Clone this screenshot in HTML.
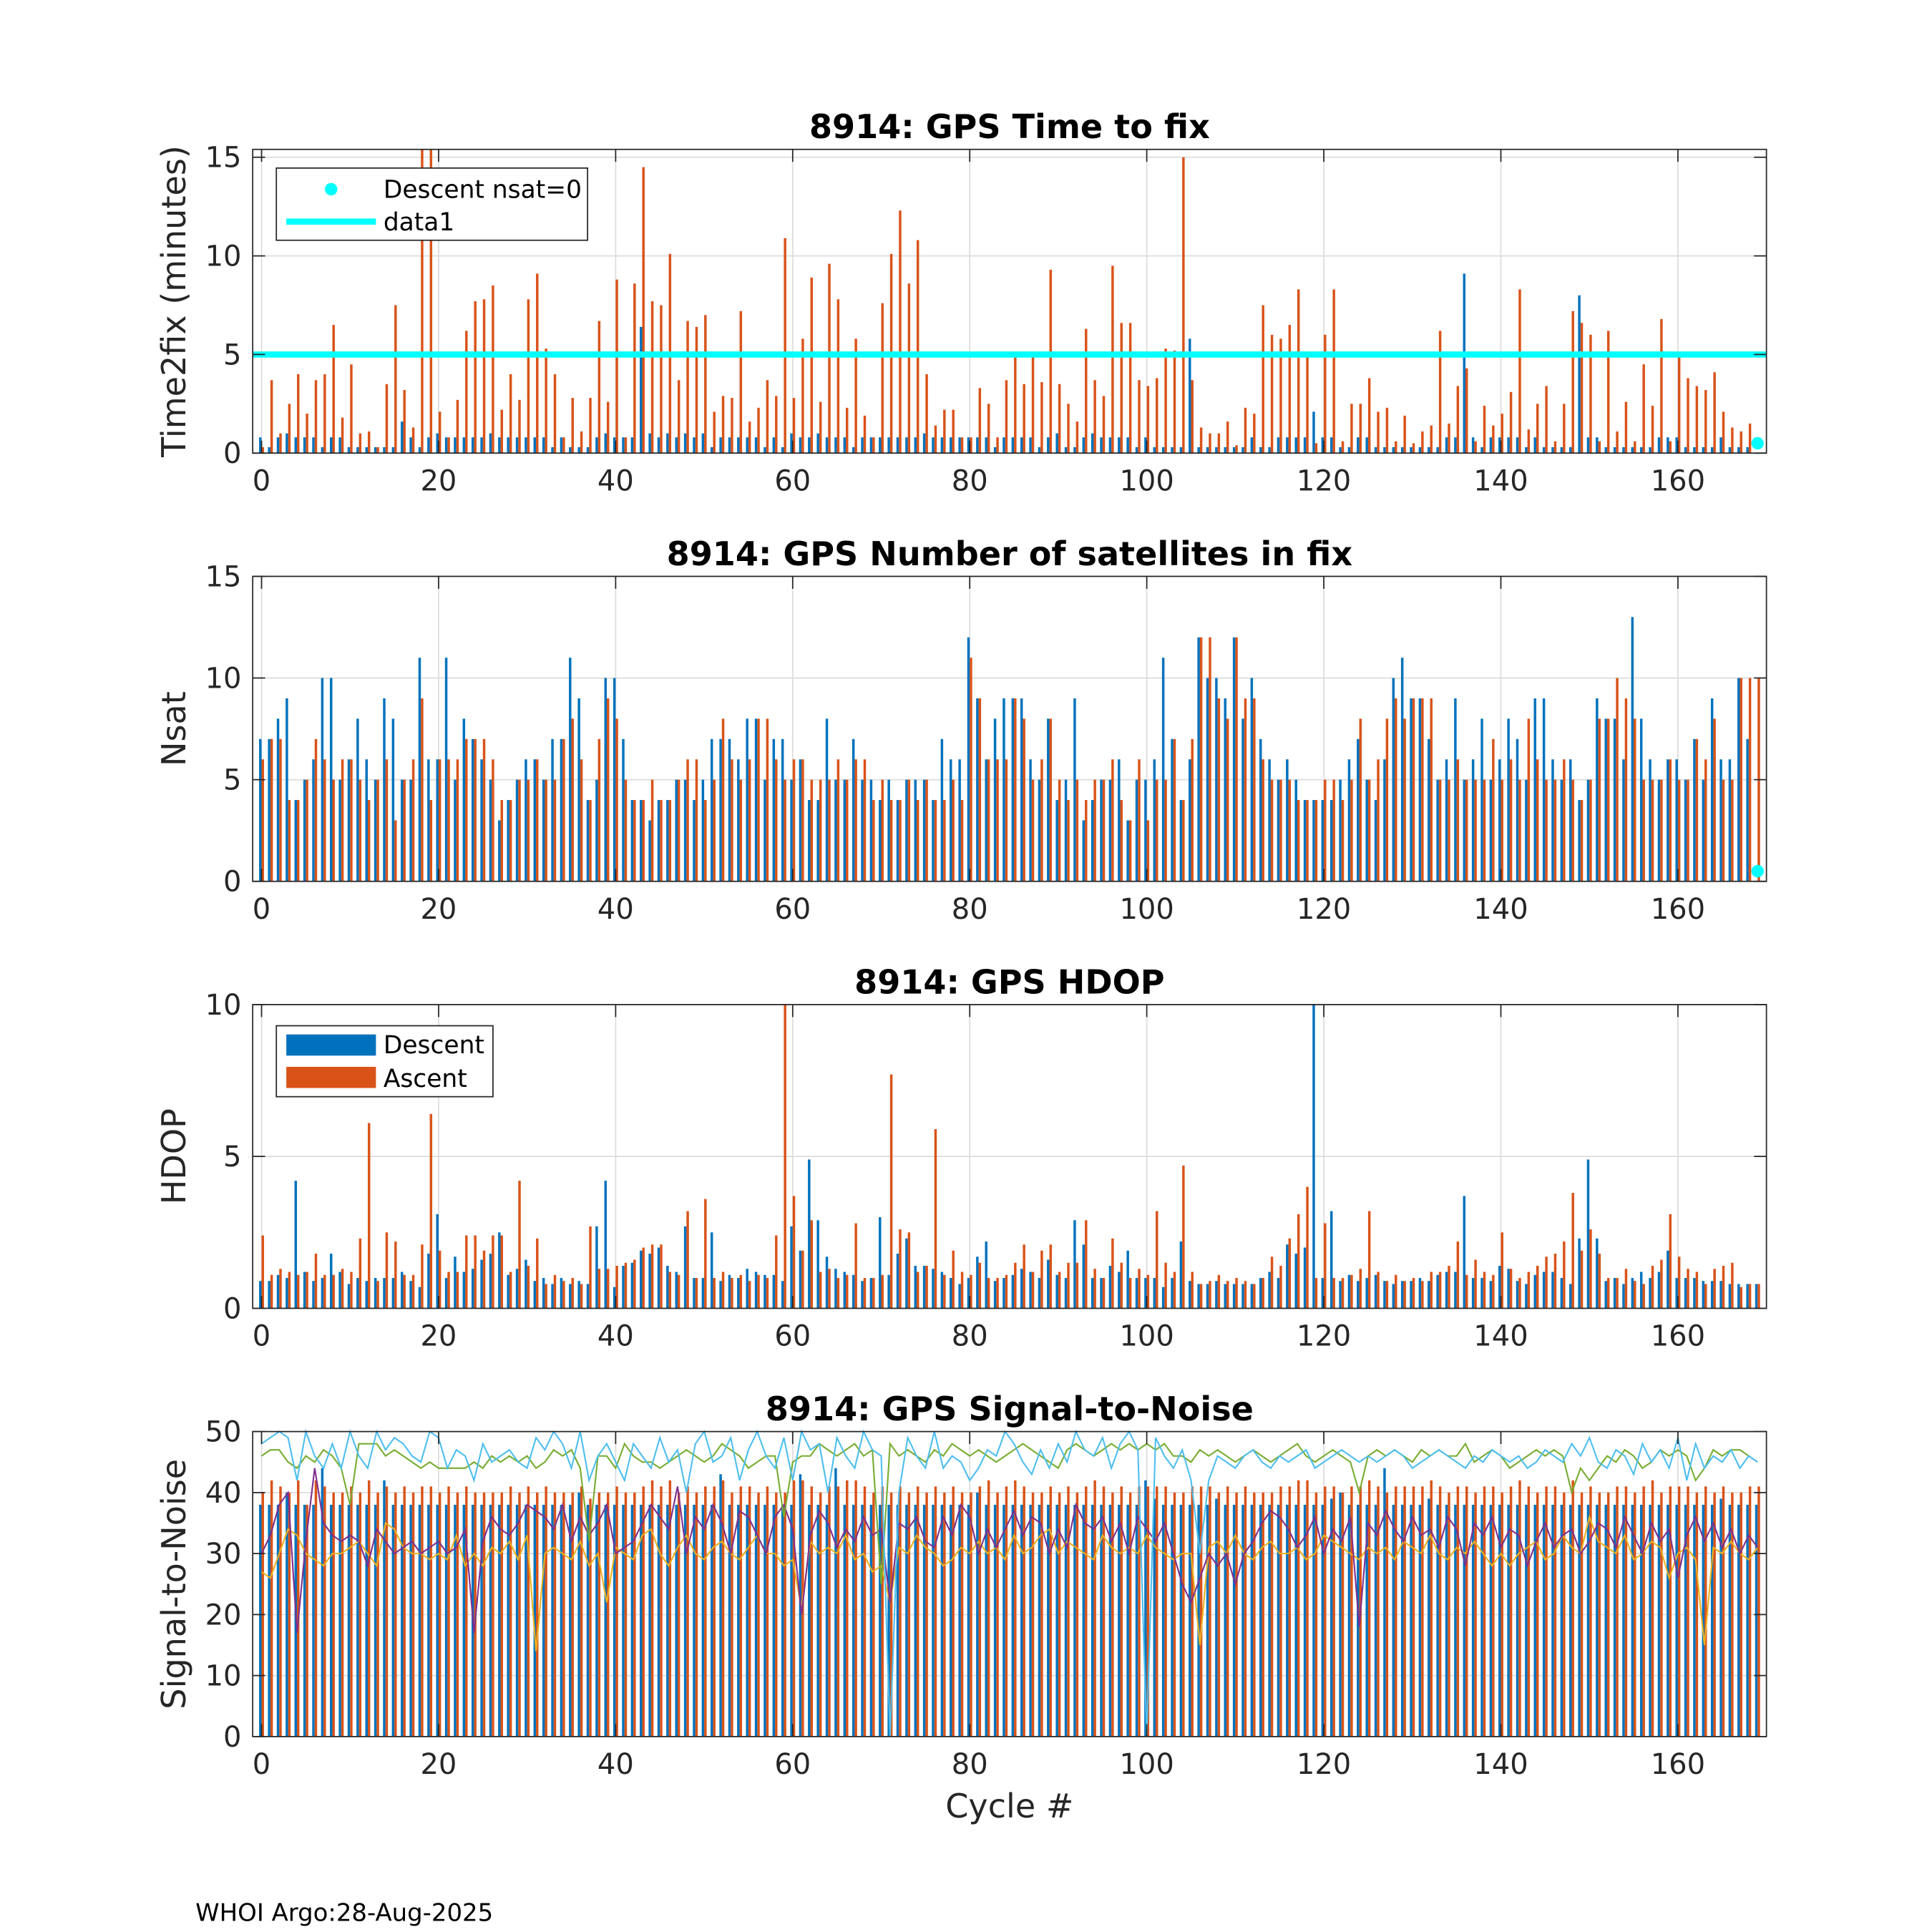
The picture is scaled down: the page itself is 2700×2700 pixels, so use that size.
<!DOCTYPE html>
<html><head><meta charset="utf-8"><style>
html,body{margin:0;padding:0;background:#fff;}
svg{display:block;font-family:"DejaVu Sans","Liberation Sans",sans-serif;}
</style></head><body>
<svg id="c" width="2700" height="2700" viewBox="0 0 1552 1552" xmlns="http://www.w3.org/2000/svg">
<rect x="0" y="0" width="1552" height="1552" fill="#fff"/>
<text x="157" y="1543" font-size="19.5" fill="#000">WHOI Argo:28-Aug-2025</text>
<text x="811" y="1460" font-size="26.5" text-anchor="middle" fill="#262626">Cycle #</text>
</svg>
<script>
const cycles = Array.from({length:170},(_, i)=>i);
const xTicks = [0,20,40,60,80,100,120,140,160];
const t2fDesc = [0.8,0.3,0.8,1,0.8,0.8,0.8,0.3,0.8,0.8,0.3,0.3,0.3,0.3,0.3,0.3,1.6,0.8,0.3,0.8,1,0.8,0.8,0.8,0.8,0.8,1,0.8,0.8,0.8,0.8,0.8,0.8,0.3,0.8,0.3,0.3,0.3,0.8,1,0.8,0.8,0.8,6.4,1,0.8,1,0.8,1,0.8,1,0.3,0.8,0.8,0.8,0.8,0.8,0.3,0.8,0.3,1,0.8,0.8,1,0.8,0.8,0.8,0.3,0.8,0.8,0.8,0.8,0.8,0.8,0.8,1,0.8,0.8,0.8,0.8,0.8,0.8,0.8,0.3,0.8,0.8,0.8,0.8,0.3,0.8,1,0.3,0.3,0.8,1,0.8,0.8,0.8,0.8,0.3,0.8,0.3,0.3,0.3,0.3,5.8,0.3,0.3,0.3,0.3,0.3,0.3,0.8,0.3,0.3,0.8,0.8,0.8,0.8,2.1,0.8,0.8,0.3,0.3,0.8,0.8,0.3,0.3,0.3,0.3,0.3,0.3,0.3,0.3,0.8,0.8,9.1,0.8,0.3,0.8,0.8,0.8,0.8,0.3,0.8,0.3,0.3,0.3,0.3,8,0.8,0.8,0.3,0.3,0.3,0.3,0.3,0.3,0.8,0.8,0.8,0.3,0.3,0.3,0.3,0.8,0.3,0.3,0.3,0];
const t2fAsc = [0.3,3.7,1,2.5,4,2,3.7,4,6.5,1.8,4.5,1,1.1,0.3,3.5,7.5,3.2,1.3,15.4,15.4,2.1,0.8,2.7,6.2,7.7,7.8,8.5,2.2,4,2.7,7.8,9.1,5.3,4,0.8,2.8,1.1,2.8,6.7,2.6,8.8,0.8,8.6,14.5,7.7,7.5,10.1,3.7,6.7,6.4,7,2.1,2.9,2.8,7.2,1.6,2.3,3.7,2.9,10.9,2.8,5.8,8.9,2.6,9.6,7.8,2.3,5.8,1.9,0.8,7.6,10.1,12.3,8.6,10.8,4,1.4,2.2,2.2,0.8,0.8,3.3,2.5,0.8,3.7,4.9,3.5,4.9,3.6,9.3,3.5,2.5,1.6,6.3,3.7,2.9,9.5,6.6,6.6,3.7,3.4,3.8,5.3,5.2,15,3.7,1.3,1,1,1.6,0.4,2.3,2,7.5,6,5.8,6.5,8.3,5,0.5,6,8.3,0.6,2.5,2.5,3.8,2.1,2.3,0.6,1.9,0.5,1.1,1.4,6.2,1.5,3.4,4.3,0.6,2.4,1.4,2,3.1,8.3,1.2,2.5,3.4,0.6,2.5,7.2,6.6,6,0.6,6.2,1.1,2.6,0.6,4.5,2.4,6.8,0.6,4.9,3.8,3.4,3.2,4.1,2.1,1.3,1.1,1.5,0];
const nsatDesc = [7,7,8,9,4,5,6,10,10,5,6,8,6,5,9,8,5,5,11,6,6,11,5,8,7,6,5,3,4,5,6,6,5,7,7,11,9,4,5,10,10,7,4,4,3,4,4,5,5,4,5,7,7,7,6,8,8,5,7,7,5,6,4,4,8,5,5,7,5,5,4,5,4,5,5,5,4,7,6,6,12,9,6,8,9,9,9,6,5,8,4,5,9,3,4,5,5,6,3,5,5,6,11,7,4,6,12,10,10,9,12,8,10,7,6,5,6,5,4,4,4,4,5,6,7,5,4,6,10,11,9,9,7,5,6,9,5,6,8,5,6,8,7,5,9,9,6,5,6,4,5,9,8,8,6,13,8,6,5,6,6,5,7,5,9,6,6,10,7,0];
const nsatAsc = [6,7,7,4,4,5,7,6,5,6,6,5,4,5,6,3,5,6,9,4,6,6,6,7,7,7,6,4,4,5,5,6,5,5,7,8,6,4,7,9,8,5,4,4,5,4,4,5,6,6,4,5,8,6,5,6,8,8,6,5,6,6,5,5,5,6,5,6,6,4,5,4,4,5,4,5,4,4,5,4,11,9,6,6,6,9,8,5,6,8,5,4,5,4,5,5,6,4,3,6,3,5,5,7,4,7,12,12,9,8,12,9,9,6,5,5,5,4,4,4,5,5,4,5,8,5,6,8,9,8,9,9,9,5,5,6,5,5,5,7,5,6,5,8,6,5,5,6,5,4,5,8,8,10,9,8,5,5,5,6,5,5,7,6,8,5,5,10,10,10];
const hdopDesc = [0.9,0.9,1.1,1,4.2,1.2,0.9,1,1.8,1.2,0.8,1,0.9,1,1,1,1.2,0.9,0.7,1.8,3.1,1,1.7,1.2,1.3,1.6,1.8,2.5,1.1,1.3,1.6,0.9,1,0.8,1,0.8,0.9,0.8,2.7,4.2,0.7,1.4,1.5,1.9,1.8,2,1.4,1.2,2.7,1,1,2.5,0.9,1.1,1,1.3,1.2,1.1,1.1,0.9,2.7,1.9,4.9,2.9,1.7,1.3,1.2,1.1,0.9,1,3,1.1,1.8,2.3,1.4,1.4,1.3,1.2,1,0.8,1,1.7,2.2,0.9,1,1.1,1.3,1.2,1,1.6,1.1,1,2.9,2.1,1,1,1.4,1.2,1.9,1,1,1,0.7,1,2.2,0.9,0.8,0.8,0.9,0.8,0.8,0.8,0.8,1,1.2,1,2.1,1.8,2,10,1,3.2,0.9,1.1,0.9,1,1.1,0.9,0.8,0.9,0.9,1,0.9,1.1,1.2,1.2,3.7,1,1,0.9,1.4,1.3,0.9,0.8,1.1,1.2,1.2,1,0.8,2.3,4.9,2.3,0.9,1,0.8,1,1.2,1,1.2,1.9,1,1,1,0.9,0.9,0.9,0.8,0.8,0.8,0.8];
const hdopAsc = [2.4,1.1,1.3,1.2,1.1,1.2,1.8,1.1,1.1,1.3,1.2,2.3,6.1,0.9,2.5,2.2,1.1,1.1,2.1,6.4,1.9,1.2,1.2,2.4,2.4,1.9,2.4,2.4,1.2,4.2,1.4,2.3,0.8,1.1,0.9,1,0.8,2.7,1.3,1.3,1.4,1.5,1.6,2,2.1,2.1,1.2,1.1,3.2,1,3.6,1,1.2,1,1.1,0.9,1.1,1,2.4,10,3.7,1.9,2.9,1.2,1.3,1,1.1,2.8,1,1,1.1,7.7,2.6,2.5,1.2,1.4,5.9,1.1,1.9,1.2,1.1,1.5,1,1,1.1,1.5,2.1,1.2,1.9,2.1,1.2,1.5,1.5,2.9,1.3,1,2.3,1.5,1,1.3,1.1,3.2,1.5,1.2,4.7,1.2,0.8,0.9,1.1,0.9,1,0.9,0.8,1,1.7,1.4,2.3,3.1,4,1,2.8,1,1,1.1,1.3,3.2,1.2,0.9,1.1,0.9,1,0.9,1.2,1.2,1.4,2.2,1.1,1.6,1.2,1.1,2.5,1.3,1,1.2,1.4,1.7,1.8,2.2,3.8,1.9,2.6,1.8,1,1,1.3,0.9,0.8,1.4,1.6,3.1,1.7,1.3,1.2,0.8,1.3,1.4,1.5,0.7,0.8,0.8];
const snrDesc = [38,38,38,40,38,38,38,44,38,38,38,38,38,38,42,38,38,38,38,38,38,38,38,38,38,38,38,38,38,38,38,38,38,38,38,38,40,38,38,38,38,38,38,38,38,38,38,38,38,38,38,38,43,38,38,38,38,38,38,38,38,43,38,38,38,44,38,38,38,38,38,38,38,38,38,38,38,38,38,38,38,40,38,38,38,38,38,38,38,38,38,38,38,38,38,38,38,38,38,38,42,39,38,38,38,38,38,38,39,38,38,38,38,38,38,38,38,38,38,38,38,39,40,38,38,38,38,44,38,38,38,38,39,38,38,38,38,38,38,38,38,38,38,38,38,38,38,38,38,38,38,38,38,38,38,38,38,38,38,38,38,38,38,38,38,39,38,38,38,38];
const snrAsc = [40,42,41,40,42,38,42,41,40,40,41,40,42,40,41,40,41,40,41,41,40,41,40,41,40,40,40,40,41,40,41,40,41,40,40,40,41,39,40,40,41,40,40,41,42,41,42,40,41,40,41,41,42,40,41,41,40,41,40,40,42,42,41,40,41,41,42,42,41,40,41,40,41,40,41,40,41,40,41,40,40,41,42,40,41,42,41,40,40,41,40,41,40,41,42,41,40,41,40,41,41,41,41,40,40,41,41,41,40,41,40,41,40,40,40,41,41,42,42,40,41,41,40,41,41,42,41,40,41,41,41,41,42,41,40,41,41,40,41,41,40,41,42,41,40,41,41,40,42,40,41,40,40,41,41,40,41,42,40,41,41,41,40,41,40,41,40,40,41,41];
const snrLightBlue = [48,49,50,49,42,50,46,44,48,44,50,46,44,50,47,49,48,46,45,50,49,44,47,46,42,48,45,46,47,45,44,49,47,50,48,44,50,42,46,48,45,42,48,46,44,49,45,47,40,48,50,45,46,49,42,47,50,46,44,49,42,50,47,48,40,49,46,44,50,47,46,0,40,49,46,44,50,44,46,45,42,44,47,46,50,48,45,43,47,44,48,45,50,47,46,49,44,48,50,47,0,49,46,44,47,42,30,42,46,45,44,46,47,45,44,46,45,46,47,44,45,46,47,46,45,46,45,46,47,46,44,45,46,47,46,45,44,46,45,47,46,45,46,44,45,47,46,45,48,46,49,45,44,47,46,43,48,45,47,44,49,42,48,44,46,45,47,44,46,45];
const snrGreen = [46,47,47,45,44,46,45,47,46,44,38,48,48,48,46,47,46,45,44,45,44,44,44,44,45,44,46,45,46,45,46,44,45,47,46,47,44,32,46,46,44,48,46,45,45,44,45,46,47,46,45,46,48,47,46,44,45,46,46,36,45,46,46,48,47,46,47,48,46,47,25,48,46,47,46,45,47,46,48,47,46,47,46,45,46,47,48,47,46,45,44,47,48,47,46,47,48,47,48,47,48,47,48,46,46,45,47,46,47,46,45,46,47,46,45,46,47,48,46,45,46,47,46,45,40,46,47,46,47,46,45,47,46,47,46,46,48,45,46,47,46,44,45,46,47,46,47,46,40,44,42,44,46,45,47,46,44,45,47,46,47,46,42,44,47,46,47,47,46,45];
const snrYellow = [27,26,30,34,33,30,29,28,30,30,31,32,30,28,35,34,31,30,30,29,30,29,33,28,30,28,31,30,32,29,33,14,30,31,30,29,32,28,30,22,31,30,29,33,34,30,28,31,33,30,29,31,32,30,29,31,33,30,30,28,29,21,32,30,31,30,33,29,30,27,28,22,31,30,33,31,30,28,29,31,30,32,30,31,29,33,30,31,33,34,30,32,31,30,29,33,31,30,31,30,33,31,30,29,30,30,15,31,32,30,33,30,29,31,32,30,30,31,29,30,33,32,31,30,29,31,30,31,29,32,31,30,33,30,29,31,30,32,30,28,30,28,30,31,32,29,30,33,31,30,36,32,31,30,33,29,30,32,31,26,30,31,29,15,31,30,32,30,29,31];
const snrPurple = [30,33,38,40,17,32,44,35,33,32,33,32,28,34,32,30,31,32,30,31,32,30,31,34,17,32,36,34,33,35,38,37,36,34,38,32,36,33,35,38,30,31,32,35,38,36,34,41,30,36,34,38,35,30,37,36,33,30,36,38,34,20,33,37,35,31,34,32,36,33,34,22,35,34,36,32,31,36,33,38,36,30,34,31,34,37,33,36,35,30,34,31,38,35,34,36,32,35,30,36,34,32,35,30,25,22,26,30,28,30,25,30,32,35,37,36,34,31,33,36,30,34,32,36,18,35,33,37,34,32,36,33,34,31,36,34,28,35,33,36,31,34,33,28,32,35,31,33,34,30,32,35,34,31,36,33,30,35,32,34,26,33,36,32,35,31,34,30,33,31];
const tickT2f = [0,5,10,15];
const tickNsat = [0,5,10,15];
const tickHdop = [0,5,10];
const tickSnr = [0,10,20,30,40,50];

const NS='http://www.w3.org/2000/svg';
const svg=document.getElementById('c');
const X0=203, X1=1419, XMIN=-1, XMAX=170;
function xs(v){return X0+(v-XMIN)/(XMAX-XMIN)*(X1-X0);}
function mk(tag,attrs,parent){const e=document.createElementNS(NS,tag);for(const k in attrs)e.setAttribute(k,attrs[k]);(parent||svg).appendChild(e);return e;}
const BLUE='#0072BD', ORANGE='#D95319';

function panel(key,top,bottom,ymax,yticks,title,ylabel){
  const g=mk('g',{});
  
  
  const ys=v=>bottom-(v/ymax)*(bottom-top);
  const ax=mk('rect',{x:X0,y:top,width:X1-X0,height:bottom-top,fill:'#fff'},g);
  
  
  const grid=mk('g',{stroke:'#dcdcdc','stroke-width':1},g);
  
  
  xTicks.forEach(t=>mk('line',{x1:xs(t),x2:xs(t),y1:top,y2:bottom},grid));
  yticks.forEach(t=>mk('line',{x1:X0,x2:X1,y1:ys(t),y2:ys(t)},grid));
  return {g,ys,top,bottom,key,ymax,yticks,title,ylabel};
}
function finish(p){
  const {g,ys,top,bottom,key,yticks,title,ylabel}=p;
  const box=mk('rect',{x:X0,y:top,width:X1-X0,height:bottom-top,fill:'none',stroke:'#262626','stroke-width':1},g);
  
  
  xTicks.forEach(t=>{
    mk('line',{x1:xs(t),x2:xs(t),y1:bottom,y2:bottom-10,stroke:'#262626'},g);
    mk('line',{x1:xs(t),x2:xs(t),y1:top,y2:top+10,stroke:'#262626'},g);
    const tx=mk('text',{x:xs(t),y:bottom+30,'font-size':23,'text-anchor':'middle',fill:'#262626'},g);
    tx.textContent=t;
    
    
  });
  yticks.forEach(t=>{
    mk('line',{x1:X0,x2:X0+10,y1:ys(t),y2:ys(t),stroke:'#262626'},g);
    mk('line',{x1:X1,x2:X1-10,y1:ys(t),y2:ys(t),stroke:'#262626'},g);
    const tx=mk('text',{x:X0-9,y:ys(t)+8,'font-size':23,'text-anchor':'end',fill:'#262626'},g);
    tx.textContent=t;
    
    
  });
  const tt=mk('text',{x:811,y:top-9,'font-size':26.5,'font-weight':'bold','text-anchor':'middle',fill:'#000'},g);
  tt.textContent=title;
  
  
  const cy=(top+bottom)/2;
  const yl=mk('text',{x:149,y:cy,'font-size':26.5,'text-anchor':'middle',fill:'#262626',transform:`rotate(-90 149 ${cy})`},g);
  yl.textContent=ylabel;
  
  
}
function bars(p,desc,asc){
  const bw=xs(0.28)-xs(0);
  const gb=mk('g',{fill:BLUE},p.g);
  
  
  const go=mk('g',{fill:ORANGE},p.g);
  
  
  cycles.forEach(i=>{
    const vd=Math.min(desc[i],p.ymax), va=Math.min(asc[i],p.ymax);
    const b=mk('rect',{x:xs(i-0.14)-bw/2,y:p.ys(vd),width:bw,height:p.bottom-p.ys(vd)},gb);
    
    
    const o=mk('rect',{x:xs(i+0.14)-bw/2,y:p.ys(va),width:bw,height:p.bottom-p.ys(va)},go);
    
    
  });
}
function cyanDot(p){
  const d=mk('circle',{cx:xs(169),cy:p.ys(0.5),r:5,fill:'#00FFFF'},p.g);
  
  
}

// Panel 1
const p1=panel('time2fix',120,364,15.4,tickT2f,'8914: GPS Time to fix','Time2fix (minutes)');
bars(p1,t2fDesc,t2fAsc);
const cl=mk('line',{x1:X0,x2:X1,y1:p1.ys(5),y2:p1.ys(5),stroke:'#00FFFF','stroke-width':5},p1.g);


cyanDot(p1);
finish(p1);
{
  const lg=mk('g',{},p1.g);
  
  
  mk('rect',{x:222,y:135,width:250,height:58,fill:'#fff',stroke:'#262626'},lg);
  mk('circle',{cx:266,cy:152,r:5,fill:'#00FFFF'},lg);
  const t1=mk('text',{x:308,y:159,'font-size':19.8,fill:'#000'},lg);t1.textContent='Descent nsat=0';
  
  
  mk('line',{x1:230,x2:302,y1:178,y2:178,stroke:'#00FFFF','stroke-width':5},lg);
  const t2=mk('text',{x:308,y:185,'font-size':19.8,fill:'#000'},lg);t2.textContent='data1';
  
  
}

// Panel 2
const p2=panel('nsat',463,708,15,tickNsat,'8914: GPS Number of satellites in fix','Nsat');
bars(p2,nsatDesc,nsatAsc);
cyanDot(p2);
finish(p2);

// Panel 3
const p3=panel('hdop',807,1051,10,tickHdop,'8914: GPS HDOP','HDOP');
bars(p3,hdopDesc,hdopAsc);
finish(p3);
{
  const lg=mk('g',{},p3.g);
  
  
  mk('rect',{x:222,y:824,width:174,height:57,fill:'#fff',stroke:'#262626'},lg);
  mk('rect',{x:230,y:831,width:72,height:17,fill:BLUE},lg);
  const t1=mk('text',{x:308,y:846,'font-size':19.8,fill:'#000'},lg);t1.textContent='Descent';
  
  
  mk('rect',{x:230,y:857,width:72,height:17,fill:ORANGE},lg);
  const t2=mk('text',{x:308,y:873,'font-size':19.8,fill:'#000'},lg);t2.textContent='Ascent';
  
  
}

// Panel 4
const p4=panel('snr',1150,1395,50,tickSnr,'8914: GPS Signal-to-Noise','Signal-to-Noise');
bars(p4,snrDesc,snrAsc);
function line(p,data,color,name){
  const pts=cycles.map(i=>xs(i).toFixed(1)+','+p.ys(data[i]).toFixed(1)).join(' ');
  const l=mk('polyline',{points:pts,fill:'none',stroke:color,'stroke-width':1.2},p.g);
  
  
}
line(p4,snrYellow,'#EDB120','snr-line-yellow');
line(p4,snrPurple,'#7E2F8E','snr-line-purple');
line(p4,snrGreen,'#77AC30','snr-line-green');
line(p4,snrLightBlue,'#4DBEEE','snr-line-lightblue');
finish(p4);
</script>
</body></html>
